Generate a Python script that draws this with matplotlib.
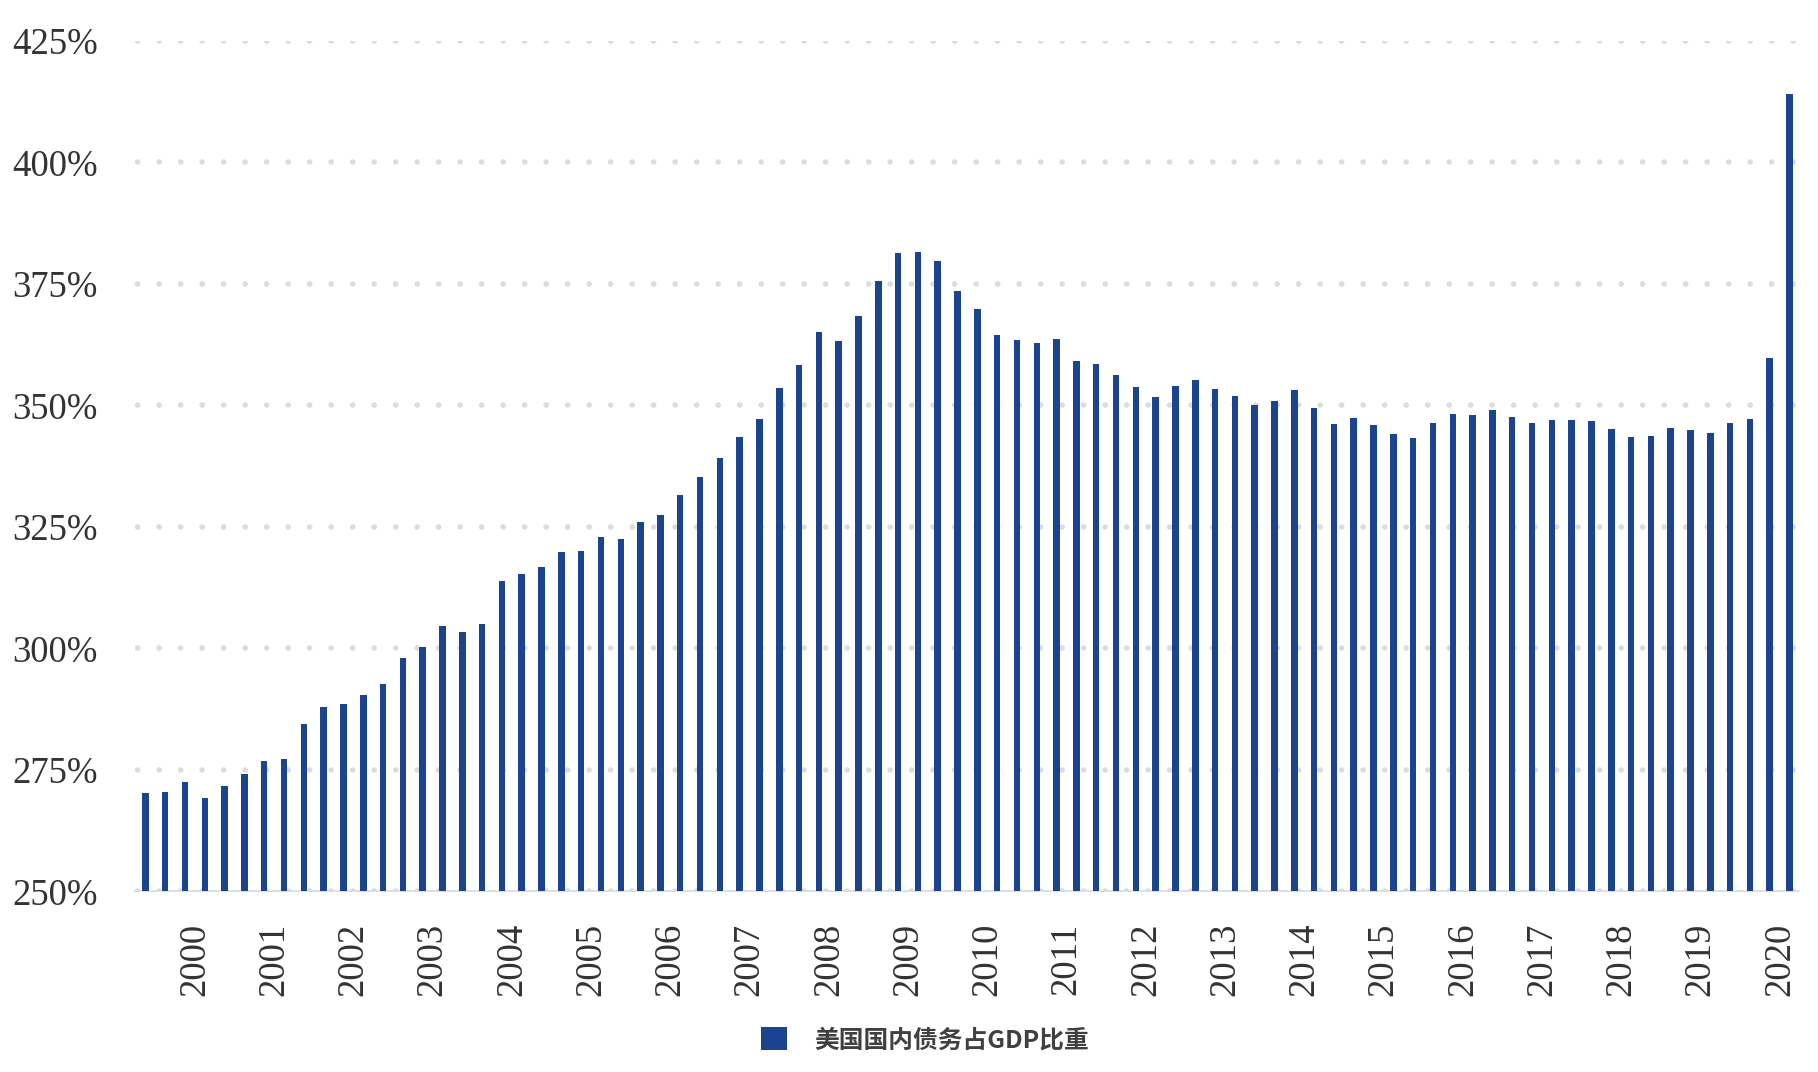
import numpy as np
import matplotlib
matplotlib.use("Agg")
from matplotlib import pyplot as plt
from matplotlib.patches import Patch

# ---------- DATA ----------
# US domestic debt as % of GDP, quarterly (first bar 1999Q4)
debt_ratio = [
    270.2, 270.5, 272.5, 269.2, 271.8, 274.2, 276.9, 277.3,
    284.4, 287.9, 288.5, 290.4, 292.7, 298.1, 300.2, 304.6,
    303.4, 305.0, 313.9, 315.3, 316.8, 319.8, 320.0, 322.9,
    322.6, 326.1, 327.4, 331.5, 335.3, 339.2, 343.6, 347.3,
    353.5, 358.4, 365.2, 363.3, 368.5, 375.7, 381.3, 381.5,
    379.8, 373.6, 369.9, 364.5, 363.4, 362.8, 363.6, 359.2,
    358.6, 356.3, 353.8, 351.8, 354.1, 355.2, 353.3, 351.9,
    350.0, 351.0, 353.2, 349.4, 346.1, 347.4, 346.0, 344.2,
    343.3, 346.4, 348.3, 348.0, 349.0, 347.6, 346.4, 347.0,
    347.0, 346.8, 345.1, 343.5, 343.8, 345.3, 345.0, 344.4,
    346.4, 347.2, 359.8, 414.0,
]
years = [str(y) for y in range(2000, 2021)]
y_ticks = [250, 275, 300, 325, 350, 375, 400, 425]
series_name = "美国国内债务占GDP比重"

bar_color = "#1b4490"
text_color = "#333333"

# ---------- FIGURE ----------
fig = plt.figure(figsize=(18.18, 10.72), dpi=100)
ax = fig.add_axes([0.0745, 0.1684, 0.9153, 0.7934])

x = np.arange(len(debt_ratio))
ax.bar(x, np.array(debt_ratio) - 250, bottom=250, width=0.33,
       color=bar_color, zorder=3)

ax.set_xlim(-0.5, len(debt_ratio) - 0.5)
ax.set_ylim(250, 425)

# y axis: serif percent labels
ax.set_yticks(y_ticks)
ax.set_yticklabels([f"{v}%" for v in y_ticks], fontfamily="Liberation Serif",
                   fontsize=26.5, color=text_color)
ax.tick_params(axis="y", length=0, pad=27)

# x axis: one label per year, centred on the year's four quarters
ax.set_xticks([4 * k + 2.5 for k in range(len(years))])
ax.set_xticklabels(years, rotation=90, fontfamily="Liberation Serif",
                   fontsize=26.5, color=text_color)
ax.tick_params(axis="x", length=0, pad=22.5)

# dotted grid (round dots ~21.5 px apart)
ax.yaxis.grid(True, linestyle=(3.4, (0.02, 3.85)), linewidth=4.0,
              color="#dcdcdc", dash_capstyle="round", zorder=0)
ax.set_axisbelow(True)

for side in ["top", "right", "left"]:
    ax.spines[side].set_visible(False)
ax.spines["bottom"].set_color("#d9d9d9")
ax.spines["bottom"].set_linewidth(1.2)

# ---------- LEGEND ----------
handle = Patch(facecolor=bar_color, edgecolor="none", label=series_name)
fig.legend(handles=[handle], loc="center", bbox_to_anchor=(0.509, 0.03),
           frameon=False, handlelength=1.05, handleheight=1.05,
           handletextpad=1.1,
           prop={"family": ["Noto Sans CJK SC", "DejaVu Sans"],
                 "size": 17.8, "weight": "bold"},
           labelcolor="#404040")

fig.savefig("out.png", dpi=100)
